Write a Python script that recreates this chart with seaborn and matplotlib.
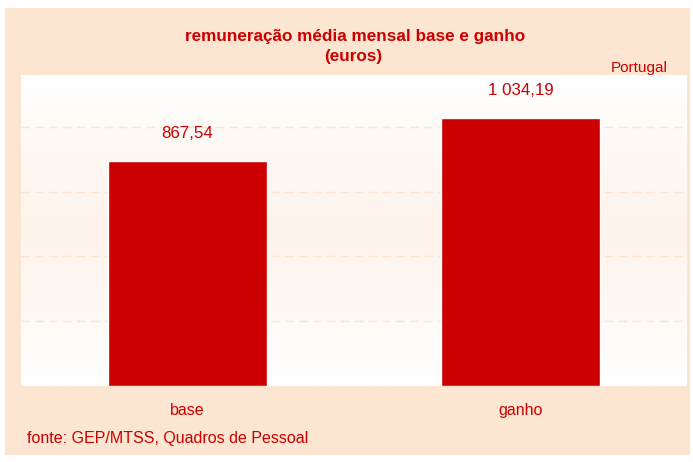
import numpy as np
import pandas as pd
import matplotlib
matplotlib.use("Agg")
import matplotlib.pyplot as plt
from matplotlib.patches import Rectangle
from matplotlib.colors import LinearSegmentedColormap
import seaborn as sns

# data
categories = ["base", "ganho"]
values = [867.54, 1034.19]
value_labels = ["867,54", "1 034,19"]
grid_levels = [0, 250, 500, 750, 1000]

red = "#CC0000"
peach = "#FDE6D1"

sns.set_theme(style="white")
plt.rcParams['font.family'] = ['Liberation Sans', 'DejaVu Sans']

df = pd.DataFrame({"cat": categories, "val": values})

fig = plt.figure(figsize=(6.93, 4.62), dpi=100)
fig.patch.set_facecolor("white")
# peach panel behind everything
fig.patches.append(Rectangle((5 / 693, 7 / 462), 685 / 693, 447 / 462,
                             transform=fig.transFigure, facecolor=peach,
                             edgecolor="none", zorder=-10))

ax = fig.add_axes([21 / 693, 76 / 462, 666 / 693, 311 / 462])

# soft vertical gradient in the plot area
cmap = LinearSegmentedColormap.from_list("pg", ["#FFFFFF", "#FEF3EA", "#FFFFFF"])
grad = np.linspace(0, 1, 256).reshape(-1, 1)
ax.imshow(grad, cmap=cmap, aspect="auto", extent=[0, 1, 0, 1],
          transform=ax.transAxes, zorder=0)

for g in grid_levels:
    ax.axhline(g, color="#FCE4CF", lw=1, ls=(0, (6, 4)), zorder=1)

sns.barplot(data=df, x="cat", y="val", color=red, saturation=1,
            width=0.48, ax=ax, zorder=2)

for i, (v, lab) in enumerate(zip(values, value_labels)):
    ax.text(i, v + 105, lab, ha="center", va="center", color=red, fontsize=12.2)

ax.set_xlim(-0.5, 1.5)
ax.set_ylim(0, 1200)
ax.set_xlabel("")
ax.set_ylabel("")
ax.set_yticks([])
ax.tick_params(axis="x", length=0, pad=12, labelsize=11.5, labelcolor=red)
for s in ax.spines.values():
    s.set_visible(False)

fig.text(355 / 693, 1 - 36 / 462, "remuneração média mensal base e ganho",
         ha="center", va="center", color=red, fontsize=12.3, fontweight="bold")
fig.text(353 / 693, 1 - 57 / 462, "(euros)",
         ha="center", va="center", color=red, fontsize=12.3, fontweight="bold")
fig.text(668 / 693, 1 - 68 / 462, "Portugal", ha="right", va="center",
         color=red, fontsize=11)
fig.text(27 / 693, 1 - 438 / 462, "fonte: GEP/MTSS, Quadros de Pessoal",
         ha="left", va="center", color=red, fontsize=11.5)

fig.savefig("out.png", dpi=100, facecolor=fig.get_facecolor())
